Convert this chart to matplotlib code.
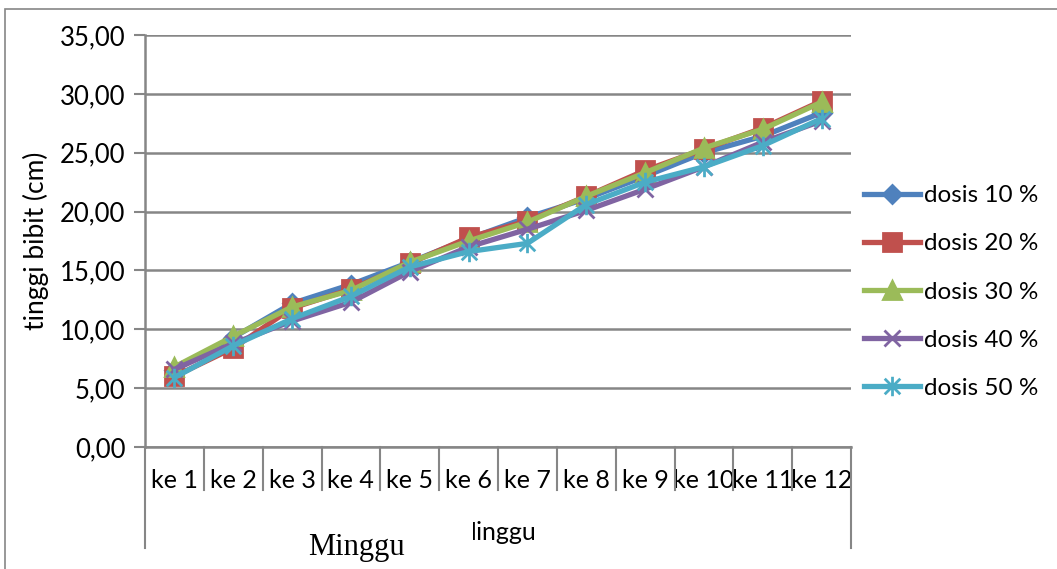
import numpy as np
import matplotlib
matplotlib.use("Agg")
import matplotlib.pyplot as plt
from matplotlib.patches import Rectangle
from matplotlib.path import Path

# tinggi bibit per minggu (cm)
minggu = ["ke 1", "ke 2", "ke 3", "ke 4", "ke 5", "ke 6",
          "ke 7", "ke 8", "ke 9", "ke 10", "ke 11", "ke 12"]
dosis_10 = [6.5, 9.3, 12.2, 13.8, 15.7, 17.7, 19.5, 21.1, 23.0, 25.0, 26.4, 28.4]
dosis_20 = [6.0, 8.4, 11.8, 13.4, 15.6, 17.8, 19.2, 21.3, 23.5, 25.3, 27.1, 29.4]
dosis_30 = [6.8, 9.4, 11.9, 13.3, 15.7, 17.5, 19.1, 21.3, 23.3, 25.4, 27.0, 29.3]
dosis_40 = [6.6, 8.8, 10.7, 12.3, 14.9, 17.0, 18.5, 20.1, 21.9, 23.8, 25.9, 27.7]
dosis_50 = [5.9, 8.6, 10.9, 12.8, 15.3, 16.6, 17.3, 20.6, 22.5, 23.8, 25.6, 27.9]
labels = ["dosis 10 %", "dosis 20 %", "dosis 30 %", "dosis 40 %", "dosis 50 %"]
yticks = [0, 5, 10, 15, 20, 25, 30, 35]

# penanda bintang (garis tegak + silang)
star = Path([(0, -1), (0, 1), (-0.8, -0.8), (0.8, 0.8), (-0.8, 0.8), (0.8, -0.8)],
            [Path.MOVETO, Path.LINETO, Path.MOVETO, Path.LINETO,
             Path.MOVETO, Path.LINETO])

series = [dosis_10, dosis_20, dosis_30, dosis_40, dosis_50]
colors = ["#4F81BD", "#C0504D", "#9BBB59", "#8064A2", "#4BACC6"]
markers = ["D", "s", "^", "x", star]
msizes = [9, 13, 13, 12, 14]

plt.rcParams["font.family"] = ["Lato", "DejaVu Sans"]
grey = "#868686"

W, H = 1057, 569
fig = plt.figure(figsize=(W / 100, H / 100), dpi=100)
ax = fig.add_axes([145 / W, 1 - 447 / H, (851 - 145) / W, (447 - 35) / H])

x = np.arange(len(minggu)) + 0.5
for vals, c, m, ms, lab in zip(series, colors, markers, msizes, labels):
    ax.plot(x, vals, color=c, lw=3.8, marker=m, ms=ms, mec=c, mfc=c,
            mew=2, label=lab, zorder=3)

ax.set_xlim(0, 12)
ax.set_ylim(0, 35)
ax.set_yticks(yticks)
ax.set_yticklabels([f"{v:.2f}".replace(".", ",") for v in yticks], fontsize=18.5)
ax.yaxis.grid(True, color=grey, lw=1.8)
ax.set_axisbelow(True)
ax.tick_params(axis="y", length=8, width=1.5, color=grey, pad=6)
ax.set_xticks(x)
ax.set_xticklabels(minggu, fontsize=18)
ax.tick_params(axis="x", length=0, pad=16)
for s in ["top", "right"]:
    ax.spines[s].set_visible(False)
for s in ["left", "bottom"]:
    ax.spines[s].set_color(grey)
    ax.spines[s].set_linewidth(1.8)

# garis pemisah kategori di bawah sumbu x
tr = ax.get_xaxis_transform()
for k in range(len(minggu) + 1):
    bottom = -0.245 if k in (0, len(minggu)) else -0.105
    ax.plot([k, k], [0, bottom], color=grey, lw=1.5, transform=tr, clip_on=False)

ax.set_ylabel("tinggi bibit (cm)", fontsize=19)
ax.yaxis.set_label_coords(-(145 - 49) / 706, 0.5)

# judul sumbu x, sebagian tertutup kotak putih
judul = fig.text(537 / W, 1 - 533 / H, "Minggu", fontsize=18, ha="right",
                 va="center")
r = fig.canvas.get_renderer()
bb = judul.get_window_extent(r)
sisa = fig.text(0, 0, "inggu", fontsize=18)
w_sisa = sisa.get_window_extent(r).width
sisa.remove()
tutup_kanan = bb.x1 - w_sisa - 4
fig.patches.append(Rectangle((290 / W, 0), (tutup_kanan - 290) / W, 1 - 518 / H,
                             transform=fig.transFigure, facecolor="white",
                             edgecolor="none", zorder=5))
fig.text(356 / W, 1 - 548 / H, "Minggu", fontsize=22, ha="center", va="center",
         family="Liberation Serif", zorder=6)

# bingkai grafik
fig.patches.append(Rectangle((5 / W, -0.1), 1.2, 1 - 9 / H + 0.1,
                             transform=fig.transFigure, facecolor="none",
                             edgecolor=grey, lw=1.2))

ax.legend(loc="center left", bbox_to_anchor=(864 / W, 1 - 292 / H),
          bbox_transform=fig.transFigure, frameon=False, fontsize=17.5,
          handlelength=2.3, handletextpad=0.15, labelspacing=1.12,
          borderaxespad=0, borderpad=0)

fig.savefig("out.png", dpi=100)
